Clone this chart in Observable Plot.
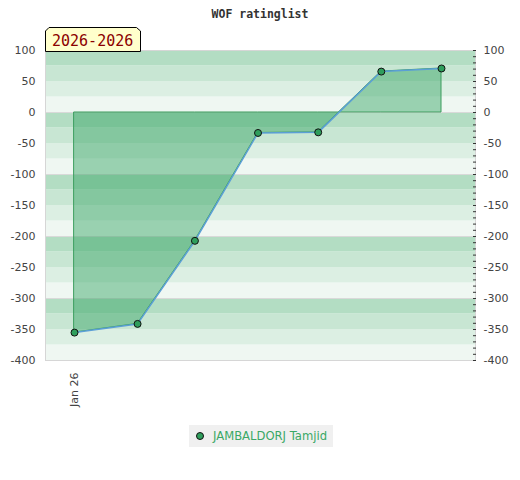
<!DOCTYPE html>
<html>
<head>
<meta charset="utf-8">
<script src="https://cdn.jsdelivr.net/npm/d3@7"></script>
<script src="https://cdn.jsdelivr.net/npm/@observablehq/plot@0.6"></script>
<style>
  body { margin: 0; background: #fff; }
  #wrap { position: relative; width: 520px; height: 480px; overflow: hidden; }
  #title { position: absolute; left: 0; top: 7px; width: 520px; text-align: center;
           font: bold 11.5px "DejaVu Sans Mono", monospace; color: #333; }
  #period { position: absolute; left: 45px; top: 27px; }
  #legend { position: absolute; left: 189px; top: 425px; width: 144px; height: 22px;
            background: #f0f0f0; font: 11.6px "DejaVu Sans", sans-serif; color: #3aa865; }
  #legend svg { position: absolute; left: 6px; top: 6px; }
  #legend span { position: absolute; left: 24px; top: 4px; white-space: nowrap; }
  #chart { position: absolute; left: 0; top: 0; }
</style>
</head>
<body>
<div id="wrap">
  <div id="chart"></div>
  <div id="title"></div>
  <svg id="period" width="97" height="25"></svg>
  <div id="legend"><svg width="10" height="10"><circle cx="5" cy="5" r="3.5" fill="#2f9e5c" stroke="#111" stroke-width="1"/></svg><span></span></div>
</div>
<script>
const title = "WOF ratinglist";
const period = "2026-2026";
const player = "JAMBALDORJ Tamjid";
const dates = ["2026-01-01", "2026-01-23", "2026-02-12", "2026-03-06", "2026-03-27", "2026-04-18", "2026-05-09"];
const ratings = [-355, -341, -207, -33, -32, 66, 71];
const yTicks = [100, 50, 0, -50, -100, -150, -200, -250, -300, -350, -400];
const xTicks = ["2026-01-01"];
const xTickLabels = ["Jan 26"];
const bandColors = ["#eff7f2", "#dcefe3", "#c8e6d3", "#b3ddc3"];

document.getElementById("title").textContent = title;
document.querySelector("#legend span").textContent = player;

const ps = d3.select("#period");
ps.append("polygon")
  .attr("points", "0.5,24.5 0.5,4 4,0.5 91.5,0.5 95.5,4 95.5,24.5")
  .attr("fill", "#ffffcc").attr("stroke", "#000").attr("stroke-width", 1);
ps.append("text").attr("x", 7).attr("y", 19)
  .attr("font-family", "DejaVu Sans Mono, monospace").attr("font-size", 15)
  .attr("fill", "#8b0000").text(period);

const data = dates.map((d, i) => ({date: new Date(d), rating: ratings[i]}));
const bands = d3.range(-400, 100, 25).map(y0 => ({y1: y0, y2: y0 + 25, shade: (((y0 % 100) + 100) % 100) / 25}));
const xTickDates = xTicks.map(d => new Date(d));
const minorTicks = d3.range(-400, 101, 10);

const chart = Plot.plot({
  width: 520,
  height: 420,
  marginTop: 50,
  marginBottom: 60,
  marginLeft: 45,
  marginRight: 45,
  style: {fontFamily: "DejaVu Sans, sans-serif", fontSize: "11px", color: "#444", background: "transparent"},
  x: {type: "utc", domain: [data[0].date, data[data.length - 1].date], insetLeft: 29, insetRight: 34, label: null},
  y: {domain: [-400, 100], label: null},
  marks: [
    Plot.rect(bands, {y1: "y1", y2: "y2", fill: d => bandColors[d.shade]}),
    Plot.ruleY(yTicks.filter(v => v % 100 === 0), {stroke: "#d9d9d9"}),
    Plot.areaY(data, {x: "date", y1: 0, y2: "rating", fill: "#30a15f", fillOpacity: 0.45, stroke: "#3a9d5d", strokeWidth: 1}),
    Plot.lineY(data, {x: "date", y: "rating", stroke: "#5b9fd6", strokeWidth: 1.5}),
    Plot.dot(data, {x: "date", y: "rating", r: 3.5, fill: "#2f9e5c", stroke: "#111", strokeWidth: 1}),
    Plot.frame({stroke: "#d6d6d6"}),
    Plot.axisY({anchor: "left", ticks: yTicks, tickSize: 0, tickPadding: 10, tickFormat: d => String(d)}),
    Plot.axisY({anchor: "right", ticks: yTicks, tickSize: 0, tickPadding: 8, tickFormat: d => String(d)}),
    Plot.axisY({anchor: "right", ticks: minorTicks, tickSize: 3, dx: -3, stroke: "#333", tickFormat: () => ""}),
    Plot.axisX({ticks: xTickDates, tickFormat: d => xTickLabels[xTickDates.findIndex(t => +t === +d)], tickRotate: -90, tickSize: 0, tickPadding: 12})
  ]
});
document.getElementById("chart").appendChild(chart);
</script>
</body>
</html>
